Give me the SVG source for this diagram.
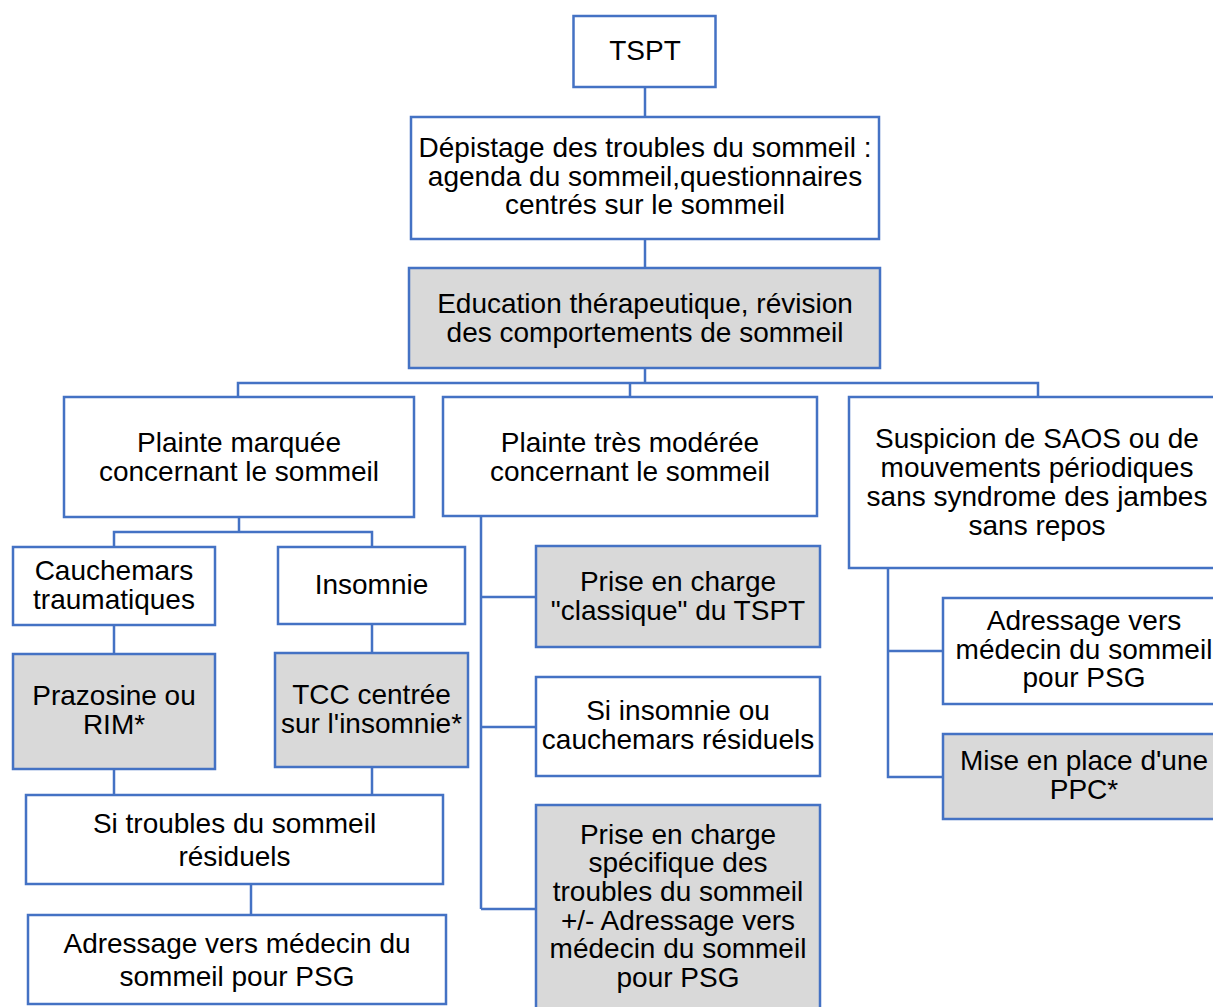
<svg xmlns="http://www.w3.org/2000/svg" width="1213" height="1007" viewBox="0 0 1213 1007">
<style>
.b{fill:#ffffff;stroke:#4472C4;stroke-width:2.5}
.g{fill:#D9D9D9;stroke:#4472C4;stroke-width:2.5}
.t{font-family:"Liberation Sans",Arial,Helvetica,sans-serif;font-size:28px;fill:#000;text-anchor:middle}
.c{fill:none;stroke:#4472C4;stroke-width:2.5}
</style>
<rect width="1213" height="1007" fill="#ffffff"/>
<g id="connectors">
<path class="c" d="M645 87V117"/>
<path class="c" d="M645 239V268"/>
<path class="c" d="M645 368V383M238 397V383H1038V397M630 383V397"/>
<path class="c" d="M239 517V532M114 547V532H372V547"/>
<path class="c" d="M114 625V654M372 624V653"/>
<path class="c" d="M114 769V795M372 767V795"/>
<path class="c" d="M251 884V915"/>
<path class="c" d="M536 597H481V516M481 727H536M481 909H536M481 597V909"/>
<path class="c" d="M888 568V777H943M888 651H943"/>
</g>
<g id="n1"><rect class="b" x="573.5" y="16" width="142" height="71"/><text class="t" x="645" y="60">TSPT</text></g>
<g id="n2"><rect class="b" x="411" y="117" width="468" height="122"/><text class="t" x="645" y="157">Dépistage des troubles du sommeil :<tspan x="645" y="185.5">agenda du sommeil,questionnaires</tspan><tspan x="645" y="214">centrés sur le sommeil</tspan></text></g>
<g id="n3"><rect class="g" x="409" y="268" width="471" height="100"/><text class="t" x="645" y="313">Education thérapeutique, révision<tspan x="645" y="342">des comportements de sommeil</tspan></text></g>
<g id="n4"><rect class="b" x="64" y="397" width="350" height="120"/><text class="t" x="239" y="452">Plainte marquée<tspan x="239" y="480.5">concernant le sommeil</tspan></text></g>
<g id="n5"><rect class="b" x="443" y="397" width="374" height="119"/><text class="t" x="630" y="452">Plainte très modérée<tspan x="630" y="480.5">concernant le sommeil</tspan></text></g>
<g id="n6"><rect class="b" x="849" y="397" width="376" height="171"/><text class="t" x="1037" y="448">Suspicion de SAOS ou de<tspan x="1037" y="477">mouvements périodiques</tspan><tspan x="1037" y="505.5">sans syndrome des jambes</tspan><tspan x="1037" y="534.5">sans repos</tspan></text></g>
<g id="n7"><rect class="b" x="13" y="547" width="202" height="78"/><text class="t" x="114" y="580">Cauchemars<tspan x="114" y="608.5">traumatiques</tspan></text></g>
<g id="n8"><rect class="b" x="278" y="547" width="187" height="77"/><text class="t" x="371.5" y="593.5">Insomnie</text></g>
<g id="n9"><rect class="g" x="13" y="654" width="202" height="115"/><text class="t" x="114" y="705">Prazosine ou<tspan x="114" y="733.5">RIM*</tspan></text></g>
<g id="n10"><rect class="g" x="275" y="653" width="193" height="114"/><text class="t" x="371.5" y="703.5">TCC centrée<tspan x="371.5" y="733">sur l'insomnie*</tspan></text></g>
<g id="n11"><rect class="b" x="26" y="795" width="417" height="89"/><text class="t" x="234.5" y="833">Si troubles du sommeil<tspan x="234.5" y="865.5">résiduels</tspan></text></g>
<g id="n12"><rect class="b" x="28" y="915" width="418" height="89"/><text class="t" x="237" y="953">Adressage vers médecin du<tspan x="237" y="985.5">sommeil pour PSG</tspan></text></g>
<g id="n13"><rect class="g" x="536" y="546" width="284" height="101"/><text class="t" x="678" y="591">Prise en charge<tspan x="678" y="619.5">"classique" du TSPT</tspan></text></g>
<g id="n14"><rect class="b" x="536" y="677" width="284" height="99"/><text class="t" x="678" y="720">Si insomnie ou<tspan x="678" y="748.5">cauchemars résiduels</tspan></text></g>
<g id="n15"><rect class="g" x="536" y="805" width="284" height="215"/><text class="t" x="678" y="843.5">Prise en charge<tspan x="678" y="872">spécifique des</tspan><tspan x="678" y="900.5">troubles du sommeil</tspan><tspan x="678" y="929.5">+/- Adressage vers</tspan><tspan x="678" y="958">médecin du sommeil</tspan><tspan x="678" y="987">pour PSG</tspan></text></g>
<g id="n16"><rect class="b" x="943" y="598" width="282" height="106"/><text class="t" x="1084" y="630">Adressage vers<tspan x="1084" y="658.5">médecin du sommeil</tspan><tspan x="1084" y="687">pour PSG</tspan></text></g>
<g id="n17"><rect class="g" x="943" y="734" width="282" height="85"/><text class="t" x="1084" y="770">Mise en place d'une<tspan x="1084" y="798.5">PPC*</tspan></text></g>
</svg>
